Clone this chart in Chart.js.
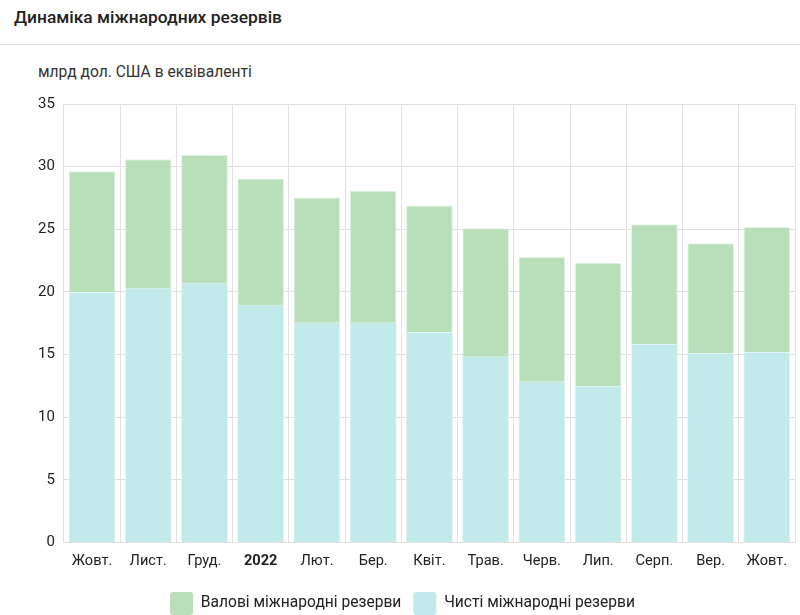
<!DOCTYPE html>
<html>
<head>
<meta charset="utf-8">
<script src="https://cdn.jsdelivr.net/npm/chart.js@4"></script>
<style>
    body{ margin:0; background:#fff; font-family: Roboto, sans-serif; }
    .head{ height:44px; border-bottom:1px solid #dcdcdc; box-shadow:0 2px 4px rgba(0,0,0,.08); position:relative; }
    .head h1{ margin:0; position:absolute; left:14px; top:7px; font-size:17.4px; font-weight:500; color:#222; }
    .unit{ position:absolute; left:38px; top:63px; font-size:15.6px; color:#333; }
    .wrap{ position:absolute; left:0; top:86px; width:800px; height:529px; }
</style>
</head>
<body>
<div class="head"><h1>Динаміка міжнародних резервів</h1></div>
<div class="unit">млрд дол. США в еквіваленті</div>
<div class="wrap"><canvas id="RES_CHART"></canvas></div>
<script>
const labels = ["Жовт.","Лист.","Груд.","2022","Лют.","Бер.","Квіт.","Трав.","Черв.","Лип.","Серп.","Вер.","Жовт."];
const gross = [29.64, 30.59, 30.94, 29.06, 27.53, 28.08, 26.89, 25.08, 22.78, 22.33, 25.40, 23.89, 25.18];
const net = [20.0, 20.34, 20.74, 18.97, 17.57, 17.57, 16.8, 14.87, 12.86, 12.49, 15.85, 15.13, 15.21];
const yTicks = [0, 5, 10, 15, 20, 25, 30, 35];

let ctx = document.getElementById('RES_CHART');

let myChart = new Chart(ctx, {
    type: 'bar',
    data: {
        labels: labels,
        datasets: [{
            label: 'Валові міжнародні резерви',
            data: gross,
            backgroundColor: '#b8dfba',
            borderColor: '#e4f3e4',
            borderWidth: 1,
            order: 2
        },{
            label: 'Чисті міжнародні резерви',
            data: net,
            backgroundColor: '#c2eaea',
            borderColor: '#e2f5f5',
            borderWidth: 1,
            order: 1
        }]
    },
    options: {
        responsive: true,
        maintainAspectRatio: false,
        animation: false,
        layout: { padding: { left: 10, right: 5, top: 6, bottom: -10 } },
        datasets: {
            bar: { grouped: false, categoryPercentage: 0.83, barPercentage: 1 }
        },
        scales: {
            x: {
                grid: { color: '#e0e0e0', offset: true, drawTicks: false },
                border: { color: '#e0e0e0' },
                ticks: {
                    color: '#222',
                    padding: 10,
                    maxRotation: 0,
                    autoSkip: false,
                    font: function(c){
                        return { family: 'Roboto', size: 14.6, weight: labels[c.index] == '2022' ? 'bold' : 'normal' };
                    }
                }
            },
            y: {
                min: 0,
                max: 35,
                afterBuildTicks: function(axis){
                    axis.ticks = yTicks.map(v => ({ value: v }));
                },
                afterFit: function(axis){
                    axis.width += 19;
                },
                grid: { color: '#e0e0e0', drawTicks: false },
                border: { color: '#e0e0e0' },
                ticks: {
                    color: '#222',
                    padding: 9,
                    font: { family: 'Roboto', size: 15 }
                }
            }
        },
        plugins: {
            legend: {
                position: 'bottom',
                labels: {
                    color: '#222',
                    boxWidth: 23,
                    boxHeight: 23,
                    useBorderRadius: true,
                    borderRadius: 3,
                    padding: 12,
                    font: { family: 'Roboto', size: 15.6 },
                    generateLabels: function(chart){
                        return chart.data.datasets.map((ds, i) => ({
                            text: ds.label,
                            fillStyle: ds.backgroundColor,
                            strokeStyle: ds.backgroundColor,
                            lineWidth: 0,
                            fontColor: '#222',
                            borderRadius: 3,
                            datasetIndex: i
                        }));
                    }
                }
            },
            tooltip: { enabled: false }
        }
    }
});
</script>
</body>
</html>
